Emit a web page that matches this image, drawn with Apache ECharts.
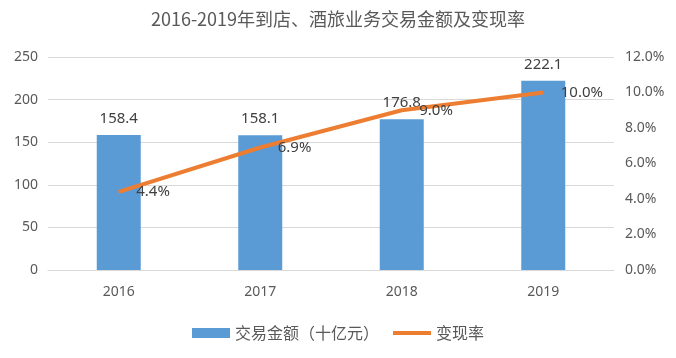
<!DOCTYPE html>
<html><head><meta charset="utf-8">
<script src="https://cdn.jsdelivr.net/npm/echarts@6/dist/echarts.min.js"></script>
<style>html,body{margin:0;padding:0;background:#fff}#c{width:676px;height:358px}</style>
</head><body><div id="c"></div>
<script>
const categories = ['2016', '2017', '2018', '2019'];
const amounts = [158.4, 158.1, 176.8, 222.1];
const rates = [4.4, 6.9, 9.0, 10.0];
const leftTicks = [0, 50, 100, 150, 200, 250];
const rightTicks = [0, 2, 4, 6, 8, 10, 12];

const FONT = '"Noto Sans", "Noto Sans CJK SC", sans-serif';
const CJK = '"Noto Sans CJK SC", sans-serif';
const chart = echarts.init(document.getElementById('c'), null, {renderer: 'canvas'});
chart.setOption({
  animation: false,
  textStyle: {fontFamily: FONT},
  title: {
    text: '2016-2019年到店、酒旅业务交易金额及变现率',
    left: 'center', top: 5,
    textStyle: {fontFamily: CJK, fontSize: 18, fontWeight: 'normal', color: '#595959'}
  },
  legend: {
    bottom: 12, left: 'center', itemWidth: 38, itemHeight: 10, itemGap: 14,
    textStyle: {fontFamily: CJK, fontSize: 16, color: '#595959'},
    data: [
      {name: '交易金额（十亿元）', icon: 'rect'},
      {name: '变现率', icon: 'path://M0,0 L38,0 L38,4 L0,4 Z'}
    ]
  },
  grid: {left: 48, right: 62, top: 57, bottom: 88},
  xAxis: {
    type: 'category', data: categories,
    axisLine: {lineStyle: {color: '#d9d9d9'}},
    axisTick: {show: false},
    axisLabel: {color: '#595959', fontSize: 14, margin: 15, fontFamily: FONT}
  },
  yAxis: [
    {
      type: 'value', min: leftTicks[0], max: leftTicks[leftTicks.length - 1], interval: 50,
      axisLine: {show: false}, axisTick: {show: false},
      splitLine: {lineStyle: {color: '#d9d9d9'}},
      axisLabel: {color: '#595959', fontSize: 14, margin: 10, fontFamily: FONT}
    },
    {
      type: 'value', min: rightTicks[0], max: rightTicks[rightTicks.length - 1], interval: 2,
      axisLine: {show: false}, axisTick: {show: false},
      splitLine: {show: false},
      axisLabel: {color: '#595959', fontSize: 14, margin: 11, fontFamily: FONT,
        formatter: v => v.toFixed(1) + '%'}
    }
  ],
  series: [
    {
      name: '交易金额（十亿元）', type: 'bar', data: amounts, barWidth: 44,
      itemStyle: {color: '#5B9BD5'},
      label: {show: true, position: 'top', distance: 9, color: '#404040', fontSize: 15,
        fontFamily: FONT, formatter: p => p.value.toFixed(1)}
    },
    {
      name: '变现率', type: 'line', yAxisIndex: 1, data: rates,
      symbol: 'circle', symbolSize: 1, showSymbol: true,
      lineStyle: {color: '#ED7D31', width: 4}, itemStyle: {color: '#ED7D31'},
      label: {show: true, position: 'right', distance: 17, color: '#404040', fontSize: 15,
        fontFamily: FONT, formatter: p => p.value.toFixed(1) + '%'}
    }
  ]
});
</script></body></html>
